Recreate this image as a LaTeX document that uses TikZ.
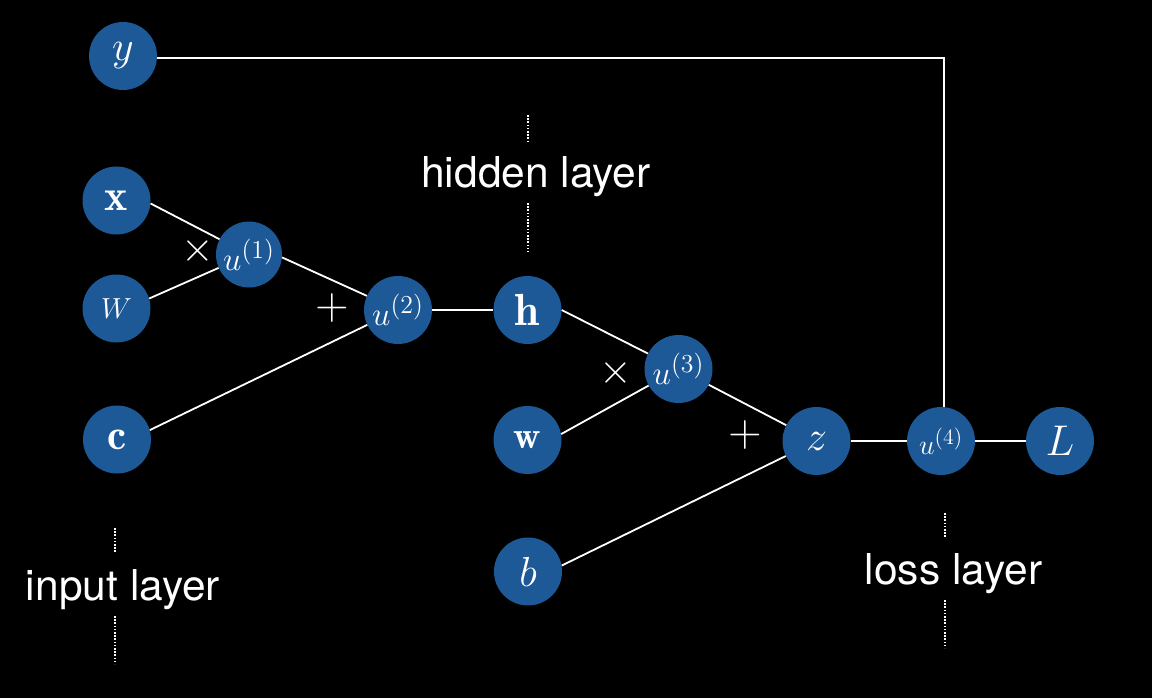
\RequirePackage{fix-cm}
\documentclass[tikz,border=0pt]{standalone}
\usepackage{fontspec}
\newfontfamily\helv{TeX Gyre Heros}
\definecolor{nodeblue}{RGB}{29,89,150}
\tikzset{
  nd/.style={circle, fill=nodeblue, minimum size=68pt, inner sep=0pt, text=white},
  edge/.style={draw=white, line width=1.8pt},
  dotline/.style={draw=white, line width=2pt, dash pattern=on 1.6pt off 1.6pt},
  lbl/.style={text=white, font=\helv\fontsize{42.5}{48}\selectfont, anchor=base, inner sep=0pt},
  op/.style={text=white, inner sep=0pt}
}
\newcommand{\sz}[2]{\pgfmathsetmacro\myratio{#1/20}\scalebox{\myratio}{\fontsize{20}{20}\selectfont #2}}
\newcommand{\usup}[1]{$u^{\mbox{\scalebox{1.12}{$\scriptstyle(#1)$}}}$}
\begin{document}
\begin{tikzpicture}[x=1pt,y=-1pt]
\fill[black] (0,0) rectangle (1152,698);
\useasboundingbox (0,0) rectangle (1152,698);
% nodes
\node[nd] (y) at (123,56) {\sz{42}{$y$}};
\node[nd] (x) at (116.5,200.5) {\sz{44}{$\mathbf{x}$}};
\node[nd] (W) at (116.5,308.5) {\sz{29}{$W$}};
\node[nd] (c) at (117,439.5) {\sz{43}{$\mathbf{c}$}};
\node[nd, minimum size=66pt] (u1) at (249,254.5) {\sz{33}{\usup{1}}};
\node[nd] (u2) at (398,310) {\sz{33}{\usup{2}}};
\node[nd] (h) at (527.5,310) {\sz{45}{$\mathbf{h}$}};
\node[nd] (u3) at (678.5,369) {\sz{33}{\usup{3}}};
\node[nd] (w) at (527.5,440) {\sz{38}{$\mathbf{w}$}};
\node[nd] (b) at (528,571.5) {\sz{42}{$b$}};
\node[nd] (z) at (816.5,441) {\sz{42}{$z$}};
\node[nd] (u4) at (941,441) {\sz{28}{\usup{4}}};
\node[nd] (L) at (1060,441) {\sz{43}{$L$}};
% operators
\node[op] (m1) at (198,251) {\sz{42}{$\times$}};
\node[op] (p1) at (332,308) {\sz{46}{$+$}};
\node[op] (m2) at (616,373) {\sz{42}{$\times$}};
\node[op] (p2) at (745,435) {\sz{46}{$+$}};
% connectors
\draw[edge] (x.-5) -- (u1);
\draw[edge] (W.17) -- (u1);
\draw[edge] (u1.-5) -- (u2);
\draw[edge] (c.16) -- (u2);
\draw[edge] (u2) -- (h);
\draw[edge] (h.east) -- (u3);
\draw[edge] (w.10) -- (u3);
\draw[edge] (u3) -- (z);
\draw[edge] (b.10) -- (z);
\draw[edge] (z) -- (u4);
\draw[edge] (u4) -- (L);
\coordinate (corner) at (944,58);
\draw[edge] (y.east |- corner) -- (corner) -- (corner |- u4.north);
% layer labels
\node[lbl] (hl) at (536,188) {hidden layer};
\node[lbl] (il) at (123,600) {input layer};
\node[lbl] (ll) at (953.5,584) {loss layer};
\draw[dotline] (528,115) -- (528,141);
\draw[dotline] (528,203) -- (528,252);
\draw[dotline] (115,528) -- (115,553);
\draw[dotline] (115,616) -- (115,664);
\draw[dotline] (945,513) -- (945,537);
\draw[dotline] (945,600) -- (945,648);
\end{tikzpicture}
\end{document}
